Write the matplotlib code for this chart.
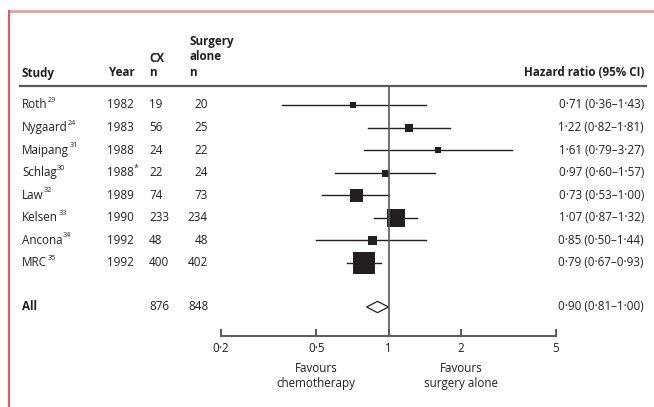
import numpy as np
import matplotlib
matplotlib.use("Agg")
import matplotlib.pyplot as plt
from matplotlib.transforms import blended_transform_factory
from matplotlib.patches import Polygon

plt.rcParams['font.family'] = ['Open Sans', 'DejaVu Sans']

# data
studies = ["Roth", "Nygaard", "Maipang", "Schlag", "Law", "Kelsen", "Ancona", "MRC"]
refs = ["29", "24", "31", "30", "32", "33", "34", "35"]
years = ["1982", "1983", "1988", "1988*", "1989", "1990", "1992", "1992"]
cx_n = [19, 56, 24, 22, 74, 233, 48, 400]
surg_n = [20, 25, 22, 24, 73, 234, 48, 402]
hr = [0.71, 1.22, 1.61, 0.97, 0.73, 1.07, 0.85, 0.79]
lo = [0.36, 0.82, 0.79, 0.60, 0.53, 0.87, 0.50, 0.67]
hi = [1.43, 1.81, 3.27, 1.57, 1.00, 1.32, 1.44, 0.93]
box = [6, 8.5, 6, 7, 13, 18, 9, 23]  # box width in px, as drawn
all_n = (876, 848)
all_hr, all_lo, all_hi = 0.90, 0.81, 1.00
ticks = [0.2, 0.5, 1, 2, 5]

W, H = 654, 407
fig = plt.figure(figsize=(W / 100, H / 100), dpi=100)

# rows: 22.57 px apart, first row at y=105 px
row0, step = 105, 22.57
ax = fig.add_axes([221 / W, 0, 335 / W, 1])
ax.set_xscale('log')
ax.set_xlim(0.2, 5)
ax.set_ylim((H - row0) / step, -row0 / step)
ax.patch.set_visible(False)

def prow(py):
    return (py - row0) / step

ys = np.arange(len(studies))
y_all = prow(307)
y_hdr = prow(86)
y_axis = prow(336)

fs = 8.4
sfs = 5.2
col = '#231f20'

for y, h, l, u, b in zip(ys, hr, lo, hi, box):
    ax.plot([l, u], [y, y], color=col, lw=1.0)
    ax.plot(h, y, marker='s', ms=b * 0.72, color=col, mew=0)

d = 0.25
ax.add_patch(Polygon([[all_lo, y_all], [all_hr, y_all - d], [all_hi, y_all],
                      [all_hr, y_all + d]], closed=True, fc='white', ec=col, lw=0.9))

ax.plot([1, 1], [y_hdr, y_axis], color='#5a5a5a', lw=1.2)

for s in ['top', 'right', 'left']:
    ax.spines[s].set_visible(False)
ax.spines['bottom'].set_position(('data', y_axis))
ax.spines['bottom'].set_color('#5a5a5a')
ax.spines['bottom'].set_linewidth(1.4)
ax.set_yticks([])
ax.set_xticks(ticks)
ax.set_xticklabels([str(t).replace('.', '·') for t in ticks])
ax.xaxis.set_minor_locator(matplotlib.ticker.NullLocator())
ax.tick_params(axis='x', direction='in', length=5, width=1.4, color='#5a5a5a',
               labelsize=fs, labelcolor=col, pad=4)

tr = blended_transform_factory(fig.transFigure, ax.transData)

def fx(px):
    return px / W

def txt(px, y, s, **kw):
    kw.setdefault('va', 'center')
    return ax.text(fx(px), y, s, transform=tr, fontsize=kw.pop('size', fs), color=col, **kw)

# header
txt(22, prow(73), "Study", fontweight='bold')
txt(135, prow(73), "Year", fontweight='bold', ha='right')
txt(149, prow(59), "CX", fontweight='bold')
txt(149, prow(73), "n", fontweight='bold')
txt(189, prow(42), "Surgery", fontweight='bold')
txt(189, prow(57), "alone", fontweight='bold')
txt(189, prow(73), "n", fontweight='bold')
txt(644, prow(73), "Hazard ratio (95% CI)", fontweight='bold', ha='right')
ax.plot([fx(20), fx(646)], [y_hdr, y_hdr], transform=tr, color='#5a5a5a', lw=1.6, clip_on=False)

def num(v):
    return f"{v:.2f}".replace('.', '·')

renderer = fig.canvas.get_renderer()
for y, s, r, yr, c, n, h, l, u in zip(ys, studies, refs, years, cx_n, surg_n, hr, lo, hi):
    t = txt(22, y, s)
    bb = t.get_window_extent(renderer=renderer)
    txt(bb.x1 + 0.3, y - 0.2, r, size=sfs)
    if yr.endswith('*'):
        txt(107, y, yr[:-1])
        txt(134, y - 0.18, '*', size=sfs + 1)
    else:
        txt(107, y, yr)
    txt(149, y, str(c))
    txt(208, y, str(n), ha='right')
    txt(644, y, f"{num(h)} ({num(l)}–{num(u)})", ha='right')

txt(22, y_all, "All", fontweight='bold')
txt(149, y_all, str(all_n[0]))
txt(209, y_all, str(all_n[1]), ha='right')
txt(644, y_all, f"{num(all_hr)} ({num(all_lo)}–{num(all_hi)})", ha='right')

txt(316, prow(376), "Favours\nchemotherapy", ha='center', linespacing=1.3)
txt(461, prow(376), "Favours\nsurgery alone", ha='center', linespacing=1.3)

# salmon frame on top and left
ax.plot([fx(9), fx(654)], [prow(11), prow(11)], transform=tr, color='#e0a49a', lw=2, clip_on=False)
ax.plot([fx(9), fx(9)], [prow(11), prow(407)], transform=tr, color='#d0606a', lw=1.6, clip_on=False)

fig.savefig("out.png", dpi=100)
